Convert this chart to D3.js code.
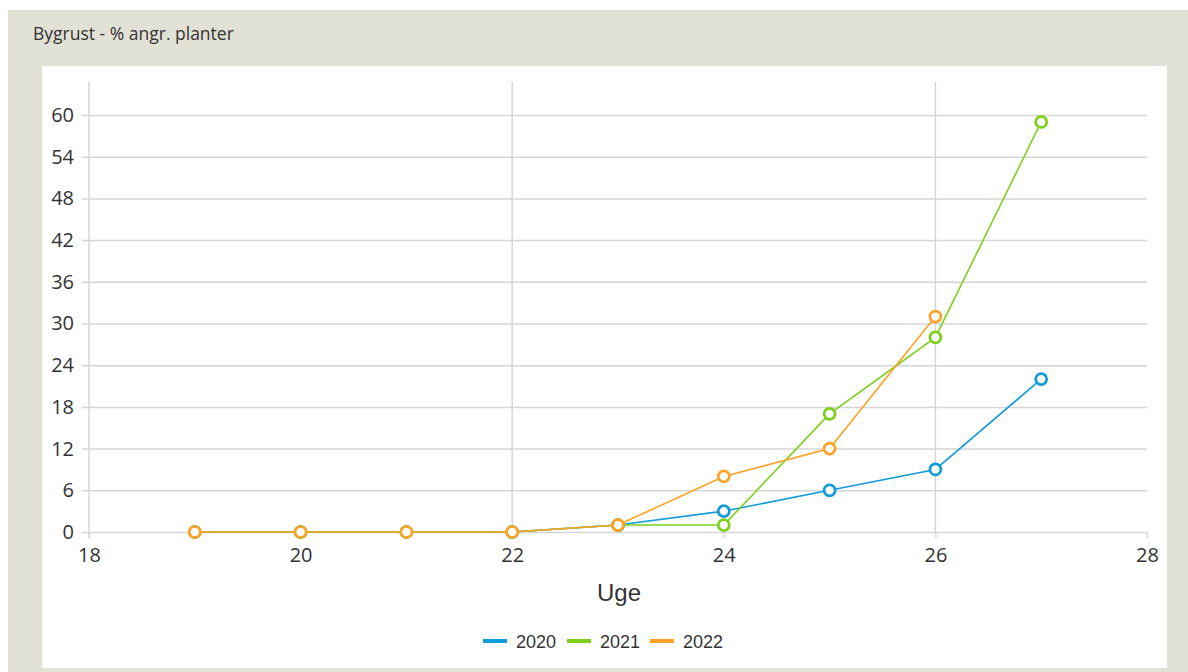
<!DOCTYPE html>
<html>
<head>
<meta charset="utf-8">
<script src="https://cdn.jsdelivr.net/npm/d3@7"></script>
<style>
  body { margin: 0; background: #fff; }
  svg { display: block; }
  .tick text { font-family: "Open Sans", sans-serif; font-size: 20px; fill: #333; }
</style>
</head>
<body>
<svg id="chart" width="1188" height="672"></svg>
<script>
"use strict";

// Données
var weeks = [19, 20, 21, 22, 23, 24, 25, 26, 27]
var series = ["2020", "2021", "2022"]
var values2020 = [0, 0, 0, 0, 1, 3, 6, 9, 22]
var values2021 = [0, 0, 0, 0, 1, 1, 17, 28, 59]
var values2022 = [0, 0, 0, 0, 1, 8, 12, 31, null]
var colors = ["#119bd9", "#7dcf1b", "#ffa226"]
var xTicks = [18, 20, 22, 24, 26, 28]
var yTicks = [0, 6, 12, 18, 24, 30, 36, 42, 48, 54, 60]
var xGrid = [22, 26]

var svg = d3.select("#chart")

var plotLeft = 89, plotRight = 1147, plotBottom = 532, plotTop = 82

/**
 * Crée les échelles du graphique
 *
 * @return {[Scale, Scale]}  échelles x et y
 */
function createScales() {
    var x = d3.scaleLinear().domain([18, 28]).range([plotLeft, plotRight])
    var y = d3.scaleLinear().domain([0, 60]).range([plotBottom, 115])
    return [x, y]
}

/**
 * Dessine le fond gris, le panneau blanc et le titre
 */
function drawBackground() {
    svg.append("rect")
        .attr("x", 8).attr("y", 10)
        .attr("width", 1180).attr("height", 662)
        .attr("fill", "#e2e1d6")

    svg.append("rect")
        .attr("x", 42).attr("y", 66)
        .attr("width", 1125).attr("height", 602)
        .attr("fill", "#fff")

    svg.append("text")
        .attr("x", 33).attr("y", 40)
        .attr("font-family", "Open Sans, sans-serif")
        .attr("font-size", 17.5)
        .attr("fill", "#333")
        .text("Bygrust - % angr. planter")
}

/**
 * Dessine les axes et la grille
 */
function drawAxes(x, y) {
    var yAxis = d3.axisLeft(y)
        .tickValues(yTicks)
        .tickSize(plotRight - plotLeft + 7)
        .tickPadding(8)

    var gy = svg.append("g")
        .attr("transform", "translate(" + plotRight + ",0)")
        .call(yAxis)
    gy.select(".domain").remove()
    gy.selectAll(".tick line").attr("stroke", "#d6d6d6").attr("stroke-width", 1.5)

    // grille verticale
    svg.append("g").selectAll("line")
        .data(xGrid)
        .enter()
        .append("line")
        .attr("x1", d => x(d)).attr("x2", d => x(d))
        .attr("y1", plotTop).attr("y2", plotBottom)
        .attr("stroke", "#d6d6d6")
        .attr("stroke-width", 1.5)

    // ligne de l'axe y
    svg.append("line")
        .attr("x1", plotLeft).attr("x2", plotLeft)
        .attr("y1", plotTop).attr("y2", plotBottom + 6)
        .attr("stroke", "#d6d6d6")
        .attr("stroke-width", 1.5)

    var xAxis = d3.axisBottom(x)
        .tickValues(xTicks)
        .tickSize(6)
        .tickPadding(10)

    var gx = svg.append("g")
        .attr("transform", "translate(0," + plotBottom + ")")
        .call(xAxis)
    gx.select(".domain").remove()
    gx.selectAll(".tick line").attr("stroke", "#d6d6d6").attr("stroke-width", 1.5)

    svg.append("text")
        .attr("x", 619).attr("y", 601)
        .attr("text-anchor", "middle")
        .attr("font-family", "Liberation Sans, Arial, sans-serif")
        .attr("font-size", 24)
        .attr("fill", "#333")
        .text("Uge")
}

/**
 * Dessine une série (ligne + marqueurs)
 */
function drawSeries(x, y, values, color) {
    var data = weeks.map((w, i) => ({ week: w, value: values[i] }))
        .filter(d => d.value !== null)

    var line = d3.line()
        .x(d => x(d.week))
        .y(d => y(d.value))

    svg.append("path")
        .datum(data)
        .attr("d", line)
        .attr("fill", "none")
        .attr("stroke", color)
        .attr("stroke-width", 1.6)

    svg.append("g").selectAll("circle")
        .data(data)
        .enter()
        .append("circle")
        .attr("cx", d => x(d.week))
        .attr("cy", d => y(d.value))
        .attr("r", 5.5)
        .attr("fill", "#fff")
        .attr("stroke", color)
        .attr("stroke-width", 2.7)
}

/**
 * Dessine la légende
 */
function legend() {
    var offsets = [483, 567, 650]
    var item = svg.append("g")
        .selectAll("g")
        .data(series)
        .enter()
        .append("g")
        .attr("transform", (d, i) => "translate(" + offsets[i] + ",641)")

    item.append("line")
        .attr("x1", 0).attr("x2", 24)
        .attr("stroke", (d, i) => colors[i])
        .attr("stroke-width", 4)

    item.append("text")
        .attr("x", 33).attr("y", 7)
        .attr("font-family", "Liberation Sans, Arial, sans-serif")
        .attr("font-size", 18)
        .attr("fill", "#333")
        .text(d => d)
}

var [x, y] = createScales()
drawBackground()
drawAxes(x, y)
drawSeries(x, y, values2020, colors[0])
drawSeries(x, y, values2021, colors[1])
drawSeries(x, y, values2022, colors[2])
legend()
</script>
</body>
</html>
